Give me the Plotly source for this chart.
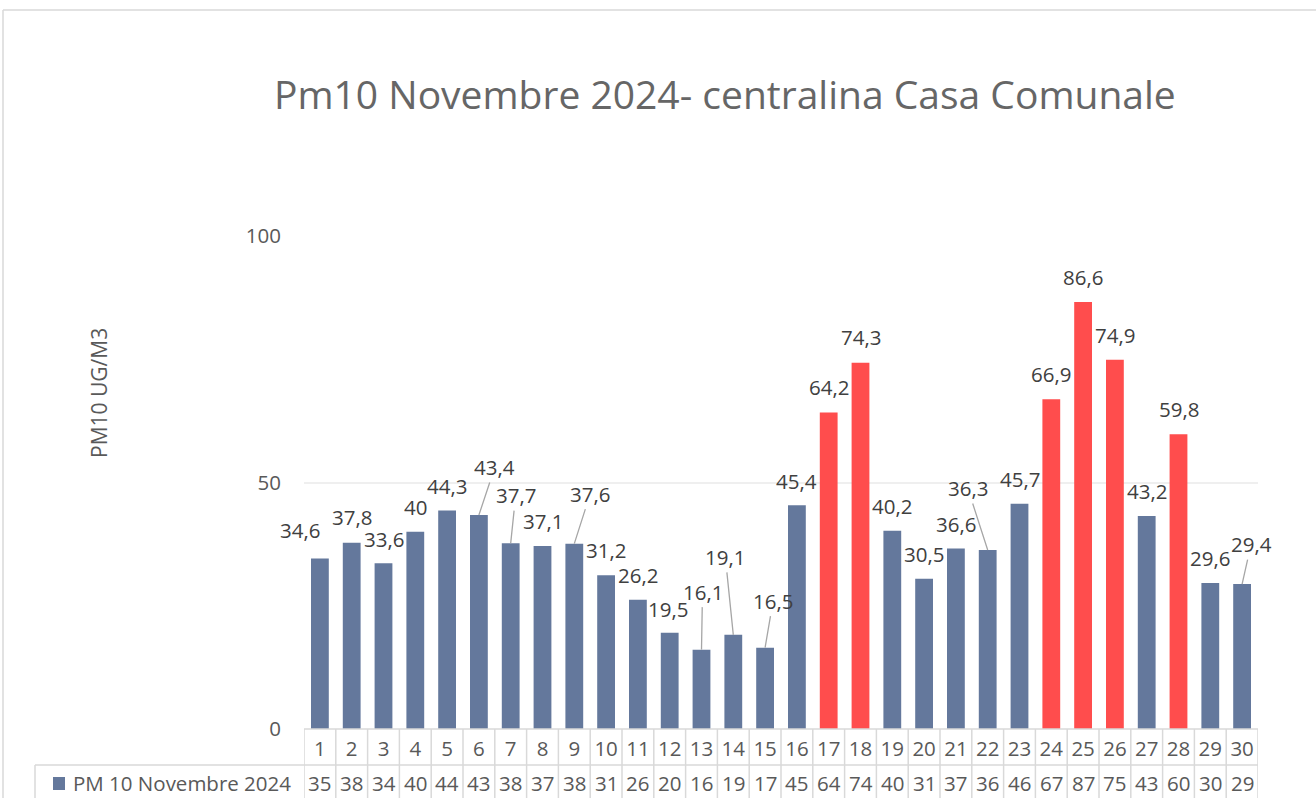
import plotly.graph_objects as go
from decimal import Decimal, ROUND_HALF_UP

# ---- data ----
days = list(range(1, 31))
pm10 = [34.6, 37.8, 33.6, 40, 44.3, 43.4, 37.7, 37.1, 37.6, 31.2,
        26.2, 19.5, 16.1, 19.1, 16.5, 45.4, 64.2, 74.3, 40.2, 30.5,
        36.6, 36.3, 45.7, 66.9, 86.6, 74.9, 43.2, 59.8, 29.6, 29.4]
series_name = "PM 10 Novembre 2024"
title_text = "Pm10 Novembre 2024- centralina Casa Comunale"
y_title = "PM10 UG/M3"
y_ticks = [0, 50, 100]
limit = 50

# ---- layout helpers (label placement in pixels: dx, dy, leader) ----
label_offsets = {
    1: (-20, -28, False), 2: (0, -26, False), 3: (0, -24, False),
    6: (16, -48, True), 7: (5, -48, True), 9: (16, -50, True),
    12: (-2, -24, False),
    13: (1, -58, True), 14: (-8, -78, True), 15: (8, -47, True),
    16: (0, -24, False), 18: (0, -26, False), 22: (-20, -62, True),
    30: (9, -40, True),
}
DEFAULT_OFF = (0, -25, False)

W, H = 1316, 798
L, R, T, B = 304, 58, 236, 69
PW, PH = W - L - R, H - T - B

def px_x(x):
    return (x - L) / PW

def px_y(y):
    return (H - B - y) / PH

BLUE = "#64789C"
RED = "#FF4D4D"
GRID = "#D9D9D9"
TXT = "#595959"
LBL = "#404040"
FONT = "Open Sans"
LBL_SIZE = 20.5
TBL_SIZE = 20.5

def fmt(v):
    s = f"{v:g}"
    return s.replace(".", ",")

def round_half_up(v):
    return int(Decimal(str(v)).quantize(Decimal("1"), rounding=ROUND_HALF_UP))

colors = [RED if v > limit else BLUE for v in pm10]

fig = go.Figure()
fig.add_trace(go.Bar(
    x=days, y=pm10, width=0.56, marker=dict(color=colors, line=dict(width=0)),
    name=series_name, showlegend=False, hoverinfo="x+y"))

annotations = []
for d, v in zip(days, pm10):
    dx, dy, leader = label_offsets.get(d, DEFAULT_OFF)
    if leader:
        annotations.append(dict(
            x=d, y=v, xref="x", yref="y", text=fmt(v), showarrow=True,
            ax=dx, ay=dy, arrowhead=0, arrowwidth=1.3, arrowcolor="#A6A6A6",
            standoff=0, startstandoff=0,
            font=dict(family=FONT, size=LBL_SIZE, color=LBL)))
    else:
        annotations.append(dict(
            x=d, y=v, xref="x", yref="y", text=fmt(v), showarrow=False,
            xshift=dx, yshift=-dy, xanchor="center", yanchor="middle",
            font=dict(family=FONT, size=LBL_SIZE, color=LBL)))

# data table values row
row2_y = px_y(783)
for d, v in zip(days, pm10):
    annotations.append(dict(
        x=d, y=row2_y, xref="x", yref="paper", text=str(round_half_up(v)),
        showarrow=False, xanchor="center", yanchor="middle",
        font=dict(family=FONT, size=TBL_SIZE, color=TXT)))

# series name in table header
annotations.append(dict(
    x=px_x(71), y=row2_y, xref="paper", yref="paper", text=series_name,
    showarrow=False, xanchor="left", yanchor="middle",
    font=dict(family=FONT, size=TBL_SIZE, color=TXT)))

# y-axis title
annotations.append(dict(
    x=px_x(99), y=px_y(393), xref="paper", yref="paper", text=y_title,
    showarrow=False, textangle=-90, xanchor="center", yanchor="middle",
    font=dict(family=FONT, size=21, color=TXT)))

# title
annotations.append(dict(
    x=px_x(725), y=px_y(93), xref="paper", yref="paper", text=title_text,
    showarrow=False, xanchor="center", yanchor="middle",
    font=dict(family=FONT, size=39, color="#666666")))

shapes = []
line = dict(color=GRID, width=1.5)
# outer chart frame (top and left edges)
shapes.append(dict(type="line", xref="paper", yref="paper",
                   x0=px_x(3), x1=px_x(1330), y0=px_y(10), y1=px_y(10), line=line))
shapes.append(dict(type="line", xref="paper", yref="paper",
                   x0=px_x(3), x1=px_x(3), y0=px_y(10), y1=px_y(810), line=line))
# table horizontal lines
shapes.append(dict(type="line", xref="paper", yref="paper",
                   x0=0, x1=1, y0=0, y1=0, line=line))
shapes.append(dict(type="line", xref="paper", yref="paper",
                   x0=px_x(35), x1=1, y0=px_y(765), y1=px_y(765), line=line))
# header cell left border
shapes.append(dict(type="line", xref="paper", yref="paper",
                   x0=px_x(35), x1=px_x(35), y0=px_y(765), y1=px_y(810), line=line))
# vertical cell borders
for b in [days[0] - 0.5] + [d + 0.5 for d in days]:
    shapes.append(dict(type="line", xref="x", yref="paper",
                       x0=b, x1=b, y0=0, y1=px_y(810), line=line))
# legend key
shapes.append(dict(type="rect", xref="paper", yref="paper",
                   x0=px_x(53), x1=px_x(65), y0=px_y(777), y1=px_y(790),
                   fillcolor=BLUE, line=dict(width=0)))

fig.update_layout(
    width=W, height=H,
    margin=dict(l=L, r=R, t=T, b=B, pad=0),
    paper_bgcolor="white", plot_bgcolor="white",
    annotations=annotations, shapes=shapes,
    bargap=0.44, showlegend=False,
    font=dict(family=FONT, color=TXT),
)
fig.update_xaxes(
    range=[0.5, 30.5], tickmode="array", tickvals=days,
    ticktext=[str(d) for d in days], showgrid=False, zeroline=False,
    showline=False, ticks="", tickfont=dict(family=FONT, size=TBL_SIZE, color=TXT),
    ticklabelstandoff=5, fixedrange=True)
fig.update_yaxes(
    range=[0, 100], tickmode="array", tickvals=y_ticks, showgrid=True,
    gridcolor="#EFEFEF", gridwidth=1.5, zeroline=False, showline=False,
    ticks="", tickfont=dict(family=FONT, size=20.5, color=TXT),
    ticklabelstandoff=22, fixedrange=True)

fig.write_html(
    "out.html",
    config={"displayModeBar": False},
    post_script="document.body.style.margin='0';document.body.style.overflow='hidden';")
